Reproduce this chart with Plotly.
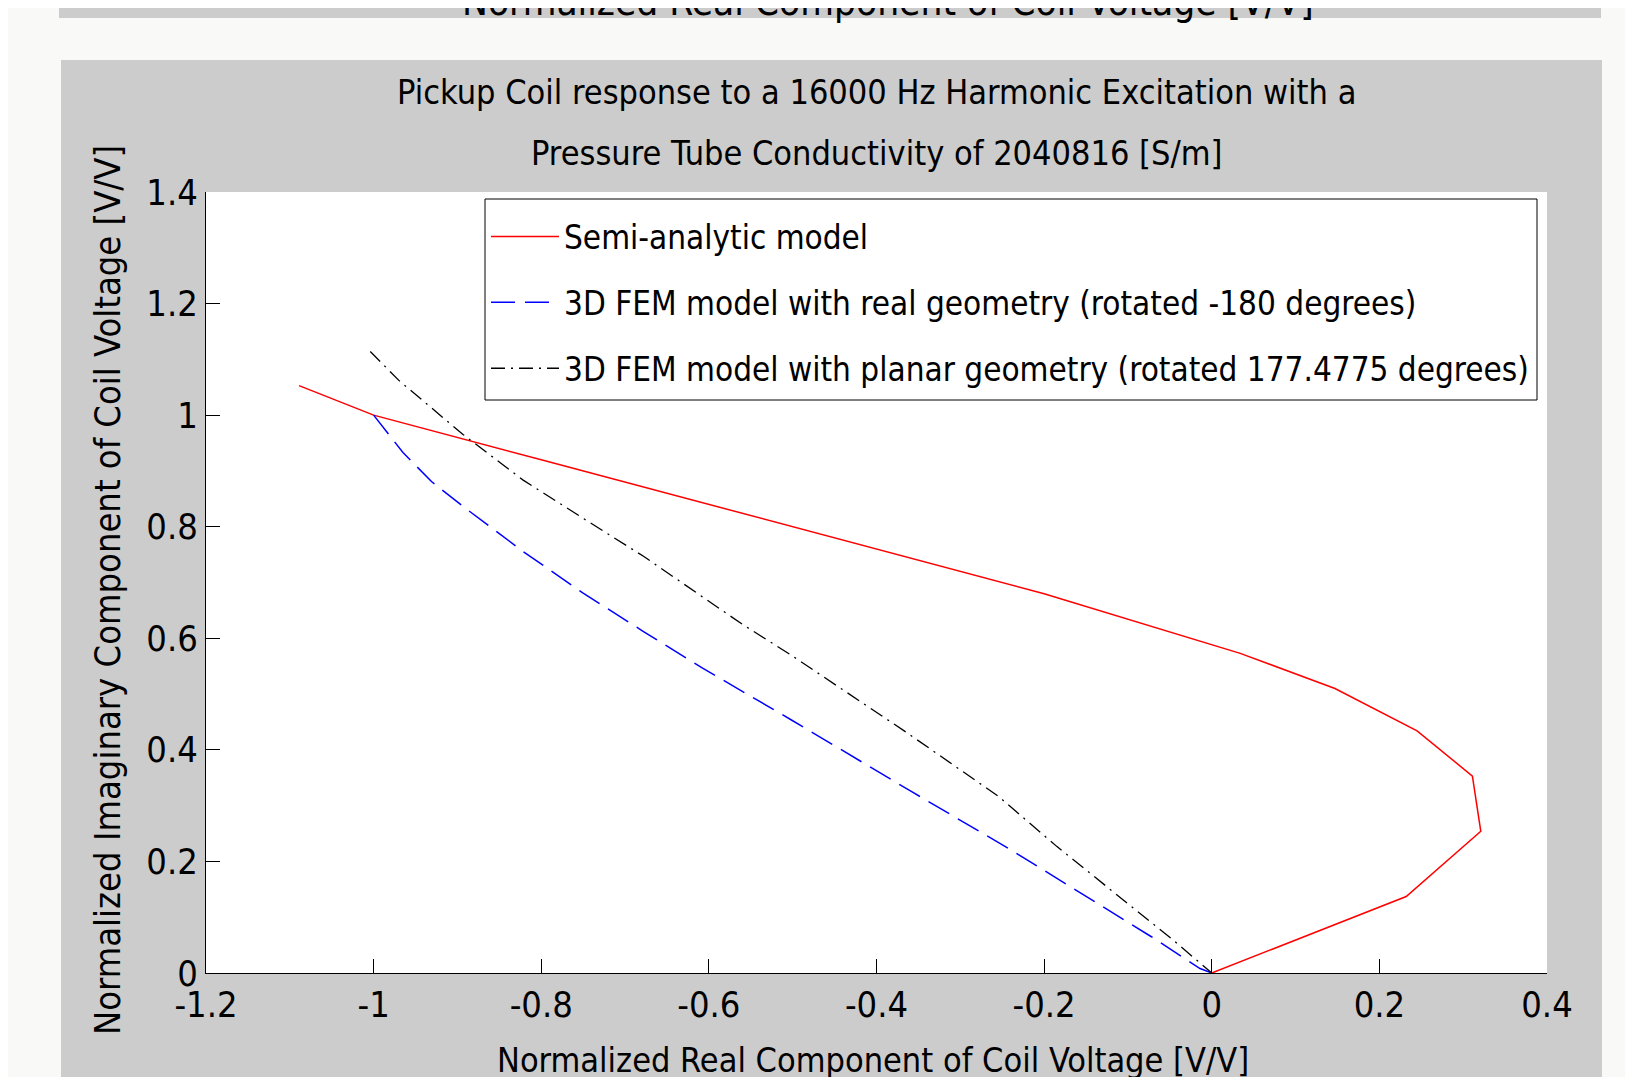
import plotly.graph_objects as go

# ---- data ----
semi_x = [-1.089, -1.000, -0.800, -0.600, -0.400, -0.200, 0.034, 0.147, 0.245, 0.311, 0.321, 0.232, 0.000]
semi_y = [1.053, 1.000, 0.920, 0.840, 0.760, 0.680, 0.573, 0.510, 0.434, 0.353, 0.254, 0.137, 0.000]

real_x = [-1.000, -0.965, -0.931, -0.893, -0.822, -0.750, -0.678, -0.607, -0.502, -0.358, -0.240, -0.072, -0.014, 0.000]
real_y = [1.000, 0.933, 0.881, 0.836, 0.756, 0.681, 0.612, 0.546, 0.454, 0.325, 0.221, 0.065, 0.008, 0.000]

planar_x = [-1.004, -0.969, -0.893, -0.822, -0.750, -0.678, -0.559, -0.502, -0.363, -0.254, -0.185, -0.111, -0.046, 0.000]
planar_y = [1.114, 1.061, 0.965, 0.884, 0.815, 0.747, 0.624, 0.570, 0.430, 0.316, 0.227, 0.137, 0.059, 0.000]

series_names = [
    "Semi-analytic model",
    "3D FEM model with real geometry (rotated -180 degrees)",
    "3D FEM model with planar geometry (rotated 177.4775 degrees)",
]

x_tickvals = [-1.2, -1.0, -0.8, -0.6, -0.4, -0.2, 0.0, 0.2, 0.4]
x_ticktext = ["-1.2", "-1", "-0.8", "-0.6", "-0.4", "-0.2", "0", "0.2", "0.4"]
y_tickvals = [0.0, 0.2, 0.4, 0.6, 0.8, 1.0, 1.2, 1.4]
y_ticktext = ["0", "0.2", "0.4", "0.6", "0.8", "1", "1.2", "1.4"]

title_lines = [
    "Pickup Coil response to a 16000 Hz Harmonic Excitation with a",
    "Pressure Tube Conductivity of 2040816 [S/m]",
]
x_title = "Normalized Real Component of Coil Voltage [V/V]"
y_title = "Normalized Imaginary Component of Coil Voltage [V/V]"

# ---- layout constants (page pixels; the plot div sits at an 8px body offset) ----
W, H = 1633, 1077
OFF = 8
L, R, T, B = 206 - OFF, 1547 - OFF, 192 - OFF, 973 - OFF
PW, PH = R - L, B - T


def px(xp):
    return (xp - OFF - L) / PW


def py(yp):
    return (B - (yp - OFF)) / PH


FONT = "DejaVu Sans Condensed, Liberation Sans Narrow, Liberation Sans, sans-serif"

fig = go.Figure()
fig.add_trace(go.Scatter(x=semi_x, y=semi_y, mode="lines", name=series_names[0],
                         line=dict(color="#ff0000", width=1.5), legendgroup="a"))
fig.add_trace(go.Scatter(x=real_x, y=real_y, mode="lines", name=series_names[1],
                         line=dict(color="#0000ff", width=1.5, dash="24px,10px"), legendgroup="b"))
fig.add_trace(go.Scatter(x=planar_x, y=planar_y, mode="lines", name=series_names[2],
                         line=dict(color="#000000", width=1.3, dash="14px,6px,2px,6px"), legendgroup="c"))

shapes = [
    # top strip (previous figure remnant)
    dict(type="rect", xref="paper", yref="paper", x0=px(59), x1=px(1601), y0=py(18), y1=py(-5),
         fillcolor="#cccccc", line=dict(width=0), layer="below"),
    # figure panel
    dict(type="rect", xref="paper", yref="paper", x0=px(61), x1=px(1602), y0=py(1095), y1=py(60),
         fillcolor="#cccccc", line=dict(width=0), layer="below"),
    # white axes area
    dict(type="rect", xref="paper", yref="paper", x0=0, x1=1, y0=0, y1=1,
         fillcolor="#ffffff", line=dict(width=0), layer="below"),
    # legend frame
    dict(type="rect", xref="paper", yref="paper", x0=px(485), x1=px(1537), y0=py(400), y1=py(199),
         fillcolor="#ffffff", line=dict(width=1, color="#000000"), layer="above"),
]

annotations = [
    dict(text=title_lines[0], x=px(876), y=py(92), xref="paper", yref="paper",
         xanchor="center", yanchor="middle", showarrow=False, font=dict(family=FONT, size=34, color="#000")),
    dict(text=title_lines[1], x=px(876), y=py(153), xref="paper", yref="paper",
         xanchor="center", yanchor="middle", showarrow=False, font=dict(family=FONT, size=34, color="#000")),
    dict(text=x_title, x=px(873), y=py(1060), xref="paper", yref="paper",
         xanchor="center", yanchor="middle", showarrow=False, font=dict(family=FONT, size=34, color="#000")),
    dict(text=y_title, x=px(107), y=py(590), xref="paper", yref="paper", textangle=-90,
         xanchor="center", yanchor="middle", showarrow=False, font=dict(family=FONT, size=36, color="#000")),
    # cut-off x label of the figure above
    dict(text=x_title, x=px(888), y=py(1), xref="paper", yref="paper",
         xanchor="center", yanchor="middle", showarrow=False, font=dict(family=FONT, size=38.5, color="#000")),
]

fig.update_layout(
    width=W, height=H,
    margin=dict(l=L, r=W - R, t=T, b=H - B, pad=0, autoexpand=False),
    paper_bgcolor="#f9f9f8",
    plot_bgcolor="#ffffff",
    font=dict(family=FONT, size=34, color="#000000"),
    shapes=shapes,
    annotations=annotations,
    showlegend=True,
    legend=dict(
        x=px(486), y=py(208.5), xanchor="left", yanchor="top",
        bgcolor="rgba(0,0,0,0)", borderwidth=0,
        font=dict(family=FONT, size=33, color="#000000"),
        traceorder="grouped", tracegroupgap=20, itemwidth=68,
    ),
    xaxis=dict(
        range=[-1.2, 0.4], tickmode="array", tickvals=x_tickvals, ticktext=x_ticktext,
        showgrid=False, zeroline=False, showline=True, linecolor="#000000", linewidth=1,
        ticks="inside", ticklen=14, tickcolor="#000000", tickwidth=1, mirror=False,
        tickfont=dict(family=FONT, size=36, color="#000"),
    ),
    yaxis=dict(
        range=[0, 1.4], tickmode="array", tickvals=y_tickvals, ticktext=y_ticktext,
        showgrid=False, zeroline=False, showline=True, linecolor="#000000", linewidth=1,
        ticks="inside", ticklen=14, tickcolor="#000000", tickwidth=1, mirror=False,
        tickfont=dict(family=FONT, size=36, color="#000"),
    ),
)

fig.write_html("out.html")
